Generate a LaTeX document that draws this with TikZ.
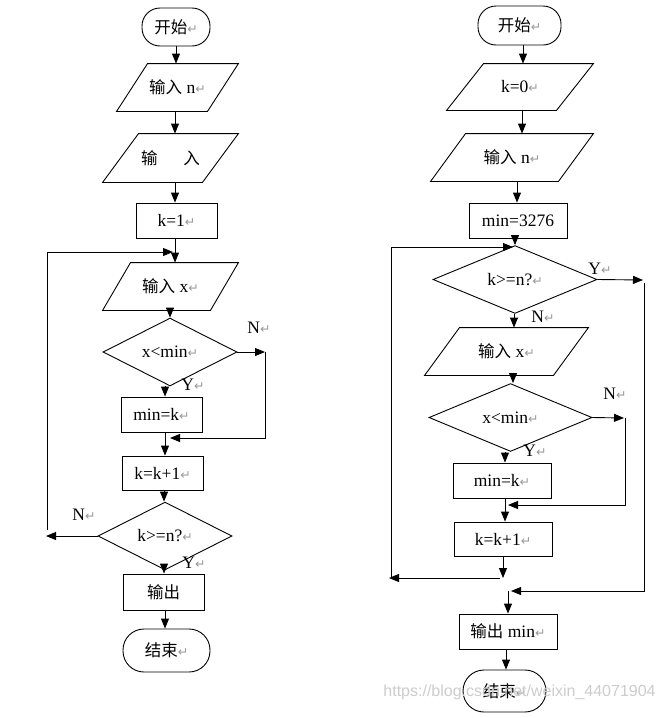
\documentclass[tikz,border=0pt]{standalone}
\usepackage{fontspec}
\setmainfont{Liberation Serif}
\newfontfamily\cjk{Noto Sans CJK SC}
\newfontfamily\symf{DejaVu Sans}
\newfontfamily\wmf{Liberation Sans}
\usetikzlibrary{shapes.geometric,arrows.meta}
\newcommand{\rt}{{\color{black!40}\symf\fontsize{12.5}{12}\selectfont ↵}}
\newcommand{\zh}[1]{{\cjk\fontsize{16.5}{17}\selectfont #1}}
\newcommand{\para}[2]{\draw ([xshift=#2pt]#1.north west) -- (#1.north east) -- ([xshift=-#2pt]#1.south east) -- (#1.south west) -- cycle;}
\begin{document}
\begin{tikzpicture}[x=1pt,y=-1pt,
  font=\fontsize{17.5}{17.5}\selectfont,
  line width=0.9pt,
  arr/.style={-{Triangle[length=10pt,width=8pt]}},
  box/.style={draw, rectangle, inner sep=0pt, minimum width=#1, minimum height=35pt},
  box/.default=81pt,
  term/.style={draw, rectangle, inner sep=0pt, rounded corners=18pt},
  dia/.style={draw, diamond, inner sep=0pt},
  io/.style={rectangle, inner sep=0pt},
  lab/.style={inner sep=0pt}]
\useasboundingbox (0,0) rectangle (664,718);

% ---------------- left flowchart ----------------
\node[term, minimum width=68pt, minimum height=38pt] (s1) at (176,27) {\zh{开始}\rt};
\node[io, minimum width=121pt, minimum height=47pt] (p1) at (177.5,87.5) {\zh{输入} n\rt};
\para{p1}{31}
\node[io, minimum width=135pt, minimum height=48pt] (p2) at (170.5,158) {\zh{输}\hspace{26pt}\zh{入}};
\para{p2}{36}
\node[box] (r1) at (176.5,220.5) {k=1\rt};
\node[io, minimum width=135pt, minimum height=47pt] (p3) at (170.5,286.5) {\zh{输入} x\rt};
\para{p3}{28}
\node[dia, minimum width=134pt, minimum height=46pt] (d1) at (170,352) {x<min\rt};
\node[box] (r2) at (161.5,414.5) {min=k\rt};
\node[box, minimum height=34pt] (r3) at (162.5,473) {k=k+1\rt};
\node[dia, minimum width=134pt, minimum height=46pt] (d2) at (165,536) {k>=n?\rt};
\node[box, minimum height=36pt] (r4) at (163.5,592) {\zh{输出}};
\node[term, minimum width=87pt, minimum height=43pt, rounded corners=21pt] (e1) at (166.5,650.5) {\zh{结束}\rt};

\node[lab] (lN1) at (259,328) {N\rt};
\node[lab] (lY1) at (193,385) {Y\rt};
\node[lab] (lN2) at (84,515) {N\rt};
\node[lab] (lY2) at (194,563) {Y\rt};

\coordinate (a1) at (265,352);
\coordinate (a2) at (265,438);
\coordinate (a3) at (170,438);
\coordinate (b1) at (46,536);
\coordinate (b2) at (47,530);
\coordinate (b3) at (47,252);
\coordinate (b4) at (173,252);

\draw[arr] (s1.south -| 176,0) -- (p1.north -| 176,0);
\draw[arr] (p1.south -| 175,0) -- (p2.north -| 175,0);
\draw[arr] (p2.south -| 175,0) -- (r1.north -| 175,0);
\draw[arr] (r1.south -| 175,0) -- (p3.north -| 175,0);
\draw[arr] (p3.south -| 170,0) -- (d1.north);
\draw[arr] (d1.east) -- (a1);
\draw[arr] (a1) -- (a2) -- (a3);
\draw[arr] (d1.south -| 165,0) -- (r2.north -| 165,0);
\draw[arr] (r2.south -| 165,0) -- (r3.north -| 165,0);
\draw[arr] (r3.south -| 164,0) -- (d2.north -| 164,0);
\draw[arr] (d2.west) -- (b1);
\draw[arr] (b2) -- (b3) -- (b4);
\draw[arr] (d2.south -| 164,0) -- (r4.north -| 164,0);
\draw[arr] (r4.south -| 165,0) -- (e1.north -| 165,0);

% ---------------- right flowchart ----------------
\node[term, minimum width=83pt, minimum height=39pt] (s2) at (519.5,25.5) {\zh{开始}\rt};
\node[io, minimum width=146pt, minimum height=46pt] (p4) at (520,87) {k=0\rt};
\para{p4}{37}
\node[io, minimum width=162pt, minimum height=47pt] (p5) at (512,157.5) {\zh{输入} n\rt};
\para{p5}{35}
\node[box=98pt] (r5) at (518,220.5) {min=3276};
\node[dia, minimum width=164pt, minimum height=45pt] (d3) at (515,279.5) {k>=n?\rt};
\node[io, minimum width=163pt, minimum height=47pt] (p6) at (506.5,351.5) {\zh{输入} x\rt};
\para{p6}{35}
\node[dia, minimum width=163pt, minimum height=45pt] (d4) at (510.5,417.5) {x<min\rt};
\node[box=98pt] (r6) at (502,480.5) {min=k\rt};
\node[box=98pt, minimum height=34pt] (r7) at (503,539) {k=k+1\rt};
\node[box=98pt] (r8) at (508,631.5) {\zh{输出} min\rt};
\node[term, minimum width=83pt, minimum height=42pt, rounded corners=21pt] (e2) at (504.5,691) {\zh{结束}\rt};

\node[lab] (rY1) at (600,269) {Y\rt};
\node[lab] (rN1) at (543,317) {N\rt};
\node[lab] (rN2) at (615,394) {N\rt};
\node[lab] (rY2) at (535,451) {Y\rt};

\coordinate (c1) at (643,280);
\coordinate (c2) at (644,283);
\coordinate (c3) at (644,591);
\coordinate (c4) at (511,591);
\coordinate (c5) at (508,591);
\coordinate (f1) at (624,418);
\coordinate (f2) at (625,418);
\coordinate (f3) at (625,505);
\coordinate (f4) at (508,505);
\coordinate (g1) at (503,578);
\coordinate (g2) at (500,578);
\coordinate (g3) at (389,578);
\coordinate (g4) at (391,578);
\coordinate (g5) at (391,247);
\coordinate (g6) at (513,247);

\draw[arr] (s2.south -| 523,0) -- (p4.north -| 523,0);
\draw[arr] (p4.south -| 522,0) -- (p5.north -| 522,0);
\draw[arr] (p5.south -| 517,0) -- (r5.north -| 517,0);
\draw[arr] (r5.south -| 515,0) -- (d3.north);
\draw[arr] (g4) -- (g5) -- (g6);
\draw[arr] (d3.east) -- (c1);
\draw[arr] (c2) -- (c3) -- (c4);
\draw[arr] (d3.south -| 514,0) -- (p6.north -| 514,0);
\draw[arr] (p6.south -| 513,0) -- (d4.north -| 513,0);
\draw[arr] (d4.east) -- (f1);
\draw[arr] (f2) -- (f3) -- (f4);
\draw[arr] (d4.south -| 505,0) -- (r6.north -| 505,0);
\draw[arr] (r6.south -| 505,0) -- (r7.north -| 505,0);
\draw[arr] (r7.south -| 503,0) -- (g1);
\draw[arr] (g2) -- (g3);
\draw[arr] (c5) -- (r8.north -| 508,0);
\draw[arr] (r8.south -| 506,0) -- (e2.north -| 506,0);

% watermark
\node[anchor=west, inner sep=0pt, text=black!20, font=\wmf\fontsize{16}{16}\selectfont] (wm) at (383,692) {https://blog.csdn.net/weixin\_44071904};
\end{tikzpicture}
\end{document}
